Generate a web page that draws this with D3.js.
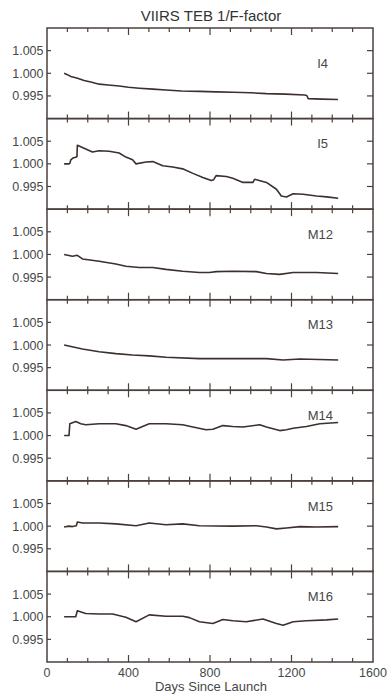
<!DOCTYPE html>
<html>
<head>
<meta charset="utf-8">
<script src="https://cdn.jsdelivr.net/npm/d3@7"></script>
<style>
  body { margin: 0; background: #fff; }
  svg { display: block; font-family: "Liberation Sans", Arial, sans-serif; }
</style>
</head>
<body>
<div id="chart"></div>
<script>
// Data: [days since launch, 1/F-factor]
const i4 = [[84,1.0000],[100,0.9997],[117,0.9993],[150,0.9989],[182,0.9984],[220,0.9980],[256,0.9976],[300,0.9974],[354,0.9972],[400,0.9969],[453,0.9967],[520,0.9965],[584,0.9963],[660,0.9961],[748,0.9960],[830,0.9959],[912,0.9958],[1000,0.9957],[1077,0.9955],[1170,0.9954],[1265,0.9952],[1275,0.9951],[1282,0.9944],[1350,0.9943],[1428,0.9942]];
const i5 = [[84,1.0000],[108,1.0000],[112,1.0001],[117,1.0009],[128,1.0013],[144,1.0015],[147,1.0016],[149,1.0041],[223,1.0026],[256,1.0029],[305,1.0028],[354,1.0024],[387,1.0015],[420,1.0009],[437,1.0000],[486,1.0004],[519,1.0005],[568,0.9996],[617,0.9993],[666,0.9989],[716,0.9979],[765,0.9970],[806,0.9963],[818,0.9965],[830,0.9974],[880,0.9972],[912,0.9968],[962,0.9959],[1011,0.9959],[1019,0.9966],[1077,0.9959],[1126,0.9944],[1150,0.9929],[1175,0.9927],[1208,0.9934],[1257,0.9933],[1323,0.9929],[1372,0.9927],[1429,0.9924]];
const m12 = [[84,1.0000],[125,0.9996],[149,0.9998],[174,0.9990],[256,0.9985],[338,0.9979],[387,0.9974],[453,0.9971],[519,0.9971],[584,0.9967],[666,0.9963],[748,0.9960],[797,0.9960],[830,0.9962],[912,0.9963],[1027,0.9962],[1077,0.9958],[1142,0.9956],[1208,0.9960],[1323,0.9960],[1429,0.9958]];
const m13 = [[84,1.0000],[174,0.9991],[256,0.9985],[338,0.9981],[420,0.9978],[502,0.9976],[584,0.9973],[748,0.9970],[912,0.9970],[1077,0.9970],[1159,0.9967],[1241,0.9969],[1429,0.9967]];
const m14 = [[84,1.0000],[108,1.0000],[112,1.0026],[141,1.0031],[166,1.0026],[190,1.0024],[256,1.0026],[338,1.0026],[387,1.0022],[437,1.0014],[469,1.0020],[502,1.0026],[584,1.0026],[666,1.0024],[716,1.0019],[781,1.0013],[814,1.0014],[863,1.0022],[912,1.0020],[962,1.0019],[1044,1.0024],[1077,1.0019],[1142,1.0011],[1175,1.0013],[1208,1.0016],[1273,1.0020],[1339,1.0026],[1429,1.0029]];
const m15 = [[84,0.9998],[108,1.0000],[125,0.9999],[144,1.0001],[149,1.0009],[174,1.0007],[256,1.0007],[338,1.0005],[437,1.0001],[502,1.0007],[584,1.0003],[666,1.0005],[748,1.0001],[912,1.0000],[1027,1.0001],[1077,0.9998],[1126,0.9994],[1175,0.9996],[1241,0.9999],[1323,0.9998],[1429,0.9999]];
const m16 = [[84,1.0000],[141,1.0000],[149,1.0013],[190,1.0007],[256,1.0006],[322,1.0006],[387,0.9999],[437,0.9989],[502,1.0004],[584,1.0001],[666,1.0001],[699,0.9998],[748,0.9989],[814,0.9985],[863,0.9994],[912,0.9991],[978,0.9989],[1060,0.9995],[1126,0.9985],[1159,0.9981],[1208,0.9989],[1273,0.9991],[1372,0.9993],[1429,0.9995]];

const bands = ["I4", "I5", "M12", "M13", "M14", "M15", "M16"];
const series = [i4, i5, m12, m13, m14, m15, m16];
const yTicks = [0.995, 1.000, 1.005];
const xTicks = [0, 400, 800, 1200, 1600];

// Space
const W = 388, H = 694;
const margin = { top: 28, right: 15, bottom: 32, left: 47 };
const plotW = W - margin.left - margin.right;
const panelH = (H - margin.top - margin.bottom) / bands.length;

const ink = "#4a403c";
const lineColor = "#3b302c";
const textColor = "#474747";

const svg = d3.select("#chart").append("svg")
    .attr("width", W)
    .attr("height", H);

const x = d3.scaleLinear().domain([0, 1600]).range([margin.left, margin.left + plotW]);

svg.append("text")
    .attr("x", 211)
    .attr("y", 21)
    .attr("text-anchor", "middle")
    .style("font-size", "15px")
    .style("fill", "#333")
    .text("VIIRS TEB 1/F-factor");

const line = d3.line()
    .x(d => x(d[0]));

bands.forEach((band, i) => {
    const top = margin.top + i * panelH;
    const y = d3.scaleLinear().domain([0.990, 1.010]).range([top + panelH, top]);
    const g = svg.append("g");

    // minor / major ticks on top and bottom edges, pointing inward
    const minor = d3.range(100, 1600, 100);
    minor.forEach(t => {
        const len = t % 400 === 0 ? 7 : 4;
        g.append("line")
            .attr("x1", x(t)).attr("x2", x(t))
            .attr("y1", top).attr("y2", top + len)
            .attr("stroke", ink).attr("stroke-width", 1.2);
        g.append("line")
            .attr("x1", x(t)).attr("x2", x(t))
            .attr("y1", top + panelH).attr("y2", top + panelH - len)
            .attr("stroke", ink).attr("stroke-width", 1.2);
    });

    // y ticks on both sides
    yTicks.forEach(t => {
        g.append("line")
            .attr("x1", margin.left).attr("x2", margin.left + 4)
            .attr("y1", y(t)).attr("y2", y(t))
            .attr("stroke", ink).attr("stroke-width", 1.2);
        g.append("line")
            .attr("x1", margin.left + plotW - 6).attr("x2", margin.left + plotW)
            .attr("y1", y(t)).attr("y2", y(t))
            .attr("stroke", ink).attr("stroke-width", 1.2);
        g.append("text")
            .attr("x", margin.left - 3.5)
            .attr("y", y(t))
            .attr("dy", "0.36em")
            .attr("text-anchor", "end")
            .style("font-size", "12.5px")
            .style("fill", textColor)
            .text(d3.format(".3f")(t));
    });

    g.append("rect")
        .attr("x", margin.left)
        .attr("y", top)
        .attr("width", plotW)
        .attr("height", panelH)
        .attr("fill", "none")
        .attr("stroke", ink)
        .attr("stroke-width", 1.5);

    g.append("path")
        .datum(series[i])
        .attr("fill", "none")
        .attr("stroke", lineColor)
        .attr("stroke-width", 1.6)
        .attr("stroke-linejoin", "round")
        .attr("d", line.y(d => y(d[1])));

    g.append("text")
        .attr("x", band.startsWith("I") ? 328 : 333)
        .attr("y", top + (i === 0 ? 35 : 25))
        .attr("dy", "0.36em")
        .attr("text-anchor", "end")
        .style("font-size", "13px")
        .style("fill", textColor)
        .text(band);
});

const bottom = margin.top + bands.length * panelH;

svg.append("g")
    .selectAll("text")
    .data(xTicks)
    .join("text")
    .attr("x", d => x(d))
    .attr("y", bottom + 15)
    .attr("text-anchor", "middle")
    .style("font-size", "12.5px")
    .style("fill", textColor)
    .text(d => d);

svg.append("text")
    .attr("x", 211)
    .attr("y", bottom + 29)
    .attr("text-anchor", "middle")
    .style("font-size", "13px")
    .style("fill", textColor)
    .text("Days Since Launch");
</script>
</body>
</html>
